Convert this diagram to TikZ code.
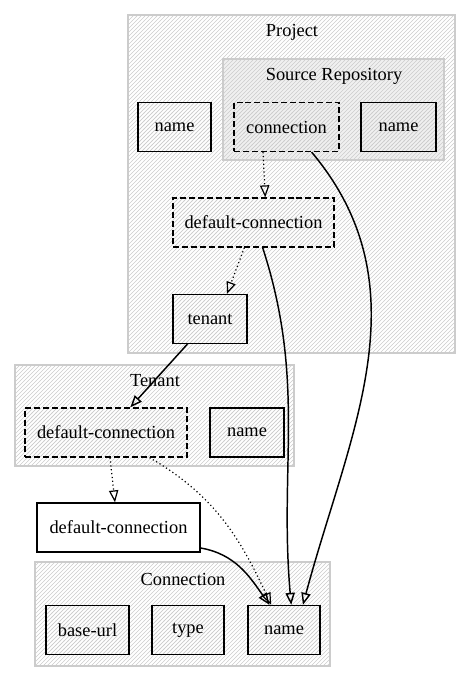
\documentclass[tikz,border=0pt]{standalone}
\usepackage{fontspec}
\setmainfont{Liberation Serif}
\usetikzlibrary{arrows.meta,patterns}
\begin{document}
\begin{tikzpicture}[x=0.75pt,y=-0.75pt,line width=1pt,
  >={Triangle[open,length=9pt,width=7pt]},
  font=\fontsize{13.8}{16}\selectfont,
  group/.style={draw=gray!40,line width=1.3pt,pattern=north east lines,pattern color=gray!40},
  field/.style={draw,line width=1.2pt,inner sep=0pt,pattern=north east lines,pattern color=gray!40,minimum height=36.5pt},
  ref/.style={field,dash pattern=on 4.5pt off 2.2pt},
  link/.style={->,line width=1.1pt},
  hint/.style={->,dotted,line width=0.9pt}]
  \useasboundingbox (0,0) rectangle (472,681);
  % containers
  \draw[group] (128,15) rectangle (455,353);
  \node (lproject) at (292,32) {Project};
  \draw[group,preaction={fill=gray!12}] (223,59) rectangle (444,160);
  \node (lsource) at (334,76) {Source Repository};
  \draw[group] (15,365) rectangle (294,466);
  \node (ltenant) at (155,381) {Tenant};
  \draw[group] (35,562) rectangle (330,666);
  \node (lconn) at (183,579) {Connection};
  % fields
  \node[field,minimum width=54.75pt] (projname) at (174.5,127) {name};
  \node[ref,minimum width=78.75pt] (srconn) at (286.5,127) {connection};
  \node[field,minimum width=56.25pt] (srname) at (398.5,127) {name};
  \node[ref,minimum width=120.75pt] (projdef) at (253.5,222.5) {default-connection};
  \node[field,minimum width=55.5pt] (tenant) at (210,319) {tenant};
  \node[ref,minimum width=121.5pt] (tendef) at (106,432.5) {default-connection};
  \node[field,minimum width=55.5pt] (tenname) at (247,432.5) {name};
  \node[field,pattern=none,fill=white,minimum width=122.25pt] (stdef) at (118.5,527.5) {default-connection};
  \node[field,minimum width=62.25pt] (baseurl) at (87.5,630) {base-url};
  \node[field,minimum width=54pt] (ctype) at (188,630) {type};
  \node[field,minimum width=54pt] (cname) at (284,630) {name};
  % links
  \draw[hint] (srconn.-133) -- (projdef.65);
  \draw[hint] (projdef.-110) -- (tenant.56);
  \draw[link] (tenant.-132) -- (tendef.46);
  \draw[hint] (tendef.-81) -- (stdef.98);
  \draw[hint] (tendef.-30) to[out=-30,in=115] (cname.117);
  \draw[link] (stdef.-14) to[out=-10,in=125] (cname.120);
  \draw[link] (projdef.-70) to[out=-72,in=95] (cname.74);
  \draw[link] (srconn.-45) to[out=-50,in=75] (cname.53);
\end{tikzpicture}
\end{document}
